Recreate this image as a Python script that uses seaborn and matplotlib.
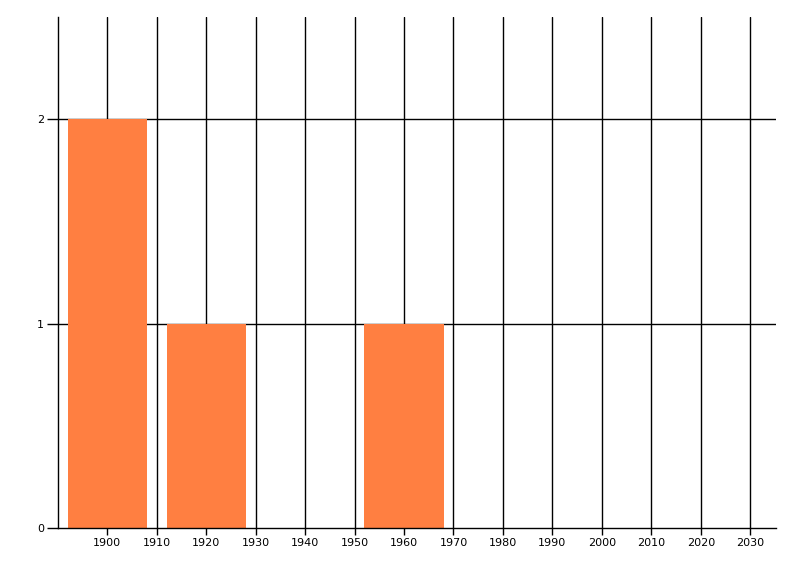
import matplotlib
matplotlib.use("Agg")
import matplotlib.pyplot as plt
import seaborn as sns
import pandas as pd

years = [1900, 1920, 1960]
counts = [2, 1, 1]
x_ticks = list(range(1900, 2031, 10))
y_ticks = [0, 1, 2]

sns.set_style("white")
plt.rcParams['font.family'] = ['DejaVu Sans']

fig = plt.figure(figsize=(8, 5.76), dpi=100)
ax = fig.add_axes([57.7 / 800, 48 / 576, (776 - 57.7) / 800, (528 - 17) / 576])

df = pd.DataFrame({"year": years, "count": counts})
sns.barplot(data=df, x="year", y="count", native_scale=True, width=0.8,
            color="#FF7F41", saturation=1, linewidth=0, edgecolor="none",
            ax=ax, zorder=3)

ax.set_xlim(1890, 2035.2)
ax.set_ylim(0, 2.5)
ax.set_xticks(x_ticks)
ax.set_xticklabels([str(t) for t in x_ticks])
ax.set_yticks(y_ticks)
ax.set_yticklabels([str(t) for t in y_ticks])

for t in range(1900, 2031, 10):
    ax.axvline(t, color="black", lw=1.0, zorder=1)
for t in [1, 2]:
    ax.axhline(t, color="black", lw=1.0, zorder=1)

for s in ["top", "right"]:
    ax.spines[s].set_visible(False)
for s in ["left", "bottom"]:
    ax.spines[s].set_color("black")
    ax.spines[s].set_linewidth(1.0)
    ax.spines[s].set_zorder(4)

ax.tick_params(axis="y", length=8, width=1.0, color="black", labelcolor="black",
               labelsize=8, pad=2, left=True)
ax.tick_params(axis="x", length=5, width=1.0, color="black", labelcolor="black",
               labelsize=8, pad=2, bottom=True)
ax.set_xlabel("")
ax.set_ylabel("")

fig.savefig("out.png", dpi=100)
